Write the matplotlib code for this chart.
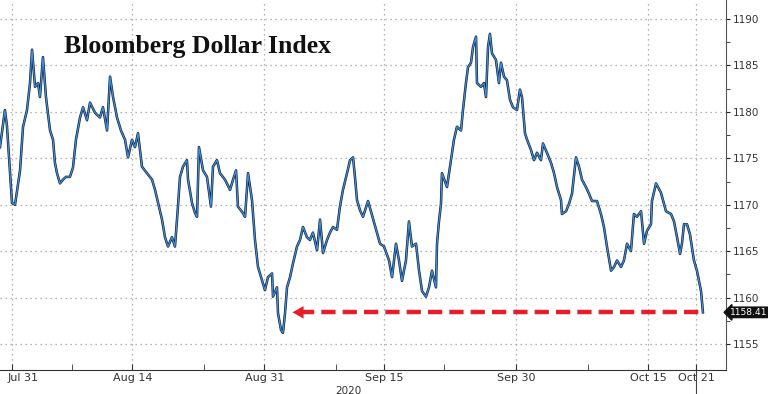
import matplotlib
matplotlib.use("Agg")
import matplotlib.pyplot as plt
import matplotlib.transforms as mtransforms

# trading-day index (Jul 31 = 0) and index level
days = [-1.04, -0.63, -0.46, -0.04, 0.21, 0.63, 0.88, 1.21, 1.46, 1.63, 1.88, 2.13, 2.29, 2.54,
        2.79, 3.13, 3.38, 3.54, 3.71, 3.96, 4.21, 4.46, 4.79, 5.04, 5.29, 5.63, 5.88, 6.21,
        6.46, 6.88, 7.29, 7.54, 7.88, 8.13, 8.38, 8.71, 9.04, 9.38, 9.63, 9.96, 10.21, 10.46,
        10.79, 11.21, 11.63, 11.88, 12.13, 12.46, 12.71, 12.96, 13.29, 13.54, 13.79, 13.96,
        14.21, 14.54, 14.63, 14.96, 15.21, 15.38, 15.54, 15.88, 16.21, 16.54, 16.71, 17.04,
        17.29, 17.71, 18.13, 18.38, 18.63, 18.79, 19.21, 19.38, 19.63, 19.96, 20.21, 20.46,
        20.79, 21.04, 21.29, 21.63, 21.71, 22.04, 22.13, 22.38, 22.54, 22.71, 22.88, 23.13,
        23.38, 23.71, 23.96, 24.21, 24.54, 24.79, 25.04, 25.38, 25.63, 25.88, 26.21, 26.46,
        26.71, 27.04, 27.29, 27.54, 27.88, 28.13, 28.38, 28.54, 28.71, 28.96, 29.21, 29.63,
        30.63, 30.96, 31.38, 31.63, 31.96, 32.21, 32.46, 32.79, 33.04, 33.29, 33.63, 33.88,
        34.13, 34.46, 34.71, 34.96, 35.29, 35.38, 35.54, 35.71, 35.79, 36.21, 36.54, 36.79,
        37.04, 37.38, 37.54, 37.79, 37.96, 38.21, 38.38, 38.63, 38.71, 39.04, 39.29, 39.46,
        39.63, 39.79, 39.96, 40.29, 40.54, 40.71, 40.96, 41.21, 41.46, 41.71, 42.04, 42.29,
        42.46, 42.71, 42.88, 43.21, 43.46, 43.71, 44.04, 44.21, 44.54, 44.88, 45.13, 45.38,
        45.71, 45.79, 46.13, 46.38, 46.63, 46.96, 47.21, 47.46, 47.79, 48.04, 48.29, 48.71,
        49.04, 49.29, 49.54, 49.88, 50.13, 50.38, 50.71, 50.96, 51.21, 51.54, 51.79, 52.04,
        52.38, 52.63, 52.88, 53.21, 53.29, 53.63, 54.04, 54.46, 54.88, 55.13, 55.38, 55.63,
        55.79, 55.96, 56.21, 56.46, 56.79, 57.04, 57.38, 57.54]
level = [1176.2, 1180.2, 1178.5, 1170.2, 1170.0, 1173.7, 1178.4, 1180.2, 1183.1, 1186.7,
         1182.7, 1183.1, 1181.6, 1185.9, 1181.6, 1178.0, 1177.0, 1174.5, 1173.4, 1172.3,
         1172.7, 1173.0, 1173.0, 1174.0, 1177.0, 1179.4, 1180.5, 1179.1, 1181.0, 1179.9,
         1179.4, 1180.5, 1178.0, 1183.8, 1181.6, 1179.4, 1178.0, 1177.0, 1175.1, 1177.0,
         1176.2, 1177.7, 1174.1, 1173.4, 1172.7, 1171.6, 1170.2, 1168.4, 1166.5, 1165.5,
         1166.5, 1165.5, 1169.8, 1173.0, 1174.1, 1174.8, 1172.7, 1170.2, 1169.1, 1168.7,
         1176.2, 1173.7, 1173.0, 1169.8, 1174.1, 1174.8, 1173.4, 1172.7, 1171.6, 1172.7,
         1173.7, 1169.8, 1169.1, 1168.7, 1173.4, 1170.5, 1166.2, 1163.3, 1161.9, 1160.8,
         1162.2, 1162.6, 1160.1, 1161.1, 1158.3, 1156.5, 1156.2, 1158.3, 1161.1, 1162.2,
         1163.7, 1165.5, 1166.2, 1167.6, 1166.5, 1166.2, 1167.0, 1165.1, 1168.4, 1164.8,
         1166.2, 1167.0, 1167.6, 1167.3, 1169.8, 1171.6, 1173.4, 1174.8, 1175.1, 1173.0,
         1170.5, 1169.4, 1168.7, 1170.4, 1165.8, 1165.5, 1164.0, 1162.2, 1165.8, 1164.0,
         1161.8, 1164.0, 1168.2, 1165.5, 1165.8, 1162.9, 1160.7, 1160.1, 1161.1, 1162.9,
         1161.1, 1165.8, 1168.2, 1170.1, 1173.4, 1171.9, 1174.8, 1177.0, 1178.4, 1178.0,
         1180.2, 1183.1, 1184.8, 1185.3, 1187.0, 1188.1, 1183.1, 1182.7, 1183.1, 1181.6,
         1187.0, 1188.4, 1186.3, 1185.6, 1183.1, 1185.3, 1183.8, 1183.4, 1181.3, 1180.5,
         1180.2, 1182.4, 1181.6, 1177.7, 1177.0, 1175.9, 1174.8, 1175.6, 1174.8, 1176.6,
         1175.6, 1174.5, 1173.4, 1171.9, 1170.5, 1169.0, 1169.3, 1170.1, 1171.2, 1175.1,
         1174.1, 1172.7, 1171.9, 1171.2, 1170.4, 1170.4, 1169.0, 1167.6, 1165.5, 1162.9,
         1163.3, 1164.0, 1163.3, 1164.0, 1165.8, 1165.0, 1169.0, 1168.7, 1169.3, 1165.8,
         1167.2, 1167.9, 1170.4, 1172.3, 1171.3, 1169.3, 1169.0, 1168.2, 1166.5, 1164.7,
         1165.8, 1167.9, 1167.9, 1166.8, 1164.0, 1162.9, 1160.7, 1158.41]

tick_pos = [0, 10, 21, 31, 42, 53, 57]
tick_labels = ["Jul 31", "Aug 14", "Aug 31", "Sep 15", "Sep 30", "Oct 15", "Oct 21"]
minor_pos = [5, 16, 27, 36, 48]
y_ticks = [1155, 1160, 1165, 1170, 1175, 1180, 1185, 1190]
last_value = 1158.41
arrow_start = 23.1

fig = plt.figure(figsize=(7.68, 3.94), dpi=100)
ax = fig.add_axes([0.0, 0.0609, 0.9453, 0.9391])

ax.plot(days, level, color="#15192a", lw=1.8, zorder=3)
ax.plot(days, level, color="#3a8fe0", lw=0.9, zorder=4)

ax.set_xlim(-1.04, 59.46)
ax.set_ylim(1152.2, 1192.05)

ax.set_xticks(tick_pos)
ax.set_xticklabels(tick_labels)
ax.set_xticks(minor_pos, minor=True)
ax.set_yticks(y_ticks)
ax.set_yticks([v + 2.5 for v in y_ticks[:-1]], minor=True)

ax.grid(True, which="major", color="#9a9a9a", linestyle=(0, (1, 3)), lw=0.9)

for s in ["left", "top"]:
    ax.spines[s].set_visible(False)
ax.spines["bottom"].set_color("#333333")
ax.spines["right"].set_color("#555555")
ax.yaxis.tick_right()
ax.tick_params(axis="y", which="both", direction="out", length=3, color="#222222",
               labelsize=7.5, labelcolor="#333333", pad=2)
ax.tick_params(axis="x", which="both", direction="in", length=4, color="#333333",
               labelsize=8, labelcolor="#333333", pad=2)

# first date label sits just right of its tick
first = ax.get_xticklabels()[0]
first.set_transform(first.get_transform() +
                    mtransforms.ScaledTranslation(11 / 100, 0, fig.dpi_scale_trans))

ax.text(0.48, -0.042, "2020", transform=ax.transAxes, ha="center", va="top",
        fontsize=7.5, color="#333333")

# long marker below the last date
ax.plot([57, 57], [1152.2, 1149.5], color="#444444", lw=0.8, clip_on=False)

# title
ax.text(0.088, 1 - 53 / 370, "Bloomberg Dollar Index", transform=ax.transAxes,
        va="baseline", fontsize=18.5, fontweight="bold", family="Liberation Serif",
        color="#111111")

# red dashed arrow to the August low
ax.plot([arrow_start + 0.9, days[-1]], [last_value, last_value], color="#e41e2b",
        lw=3.2, linestyle=(0, (3.2, 1.6)), zorder=5, solid_capstyle="butt")
ax.annotate("", xy=(arrow_start, last_value), xytext=(arrow_start + 1.3, last_value),
            arrowprops=dict(arrowstyle="-|>,head_length=0.8,head_width=0.45",
                            color="#e41e2b", lw=0), zorder=6)

# last value tag, right-aligned to the figure edge
ax.annotate(f"{last_value:.2f}", xy=(1.0, last_value), xycoords=("axes fraction", "data"),
            xytext=(767, last_value), textcoords=("figure pixels", "data"),
            ha="right", va="center", fontsize=6.6, color="white",
            bbox=dict(boxstyle="larrow,pad=0.08", fc="#111111", ec="#111111"),
            annotation_clip=False)

fig.savefig("out.png", dpi=100)
